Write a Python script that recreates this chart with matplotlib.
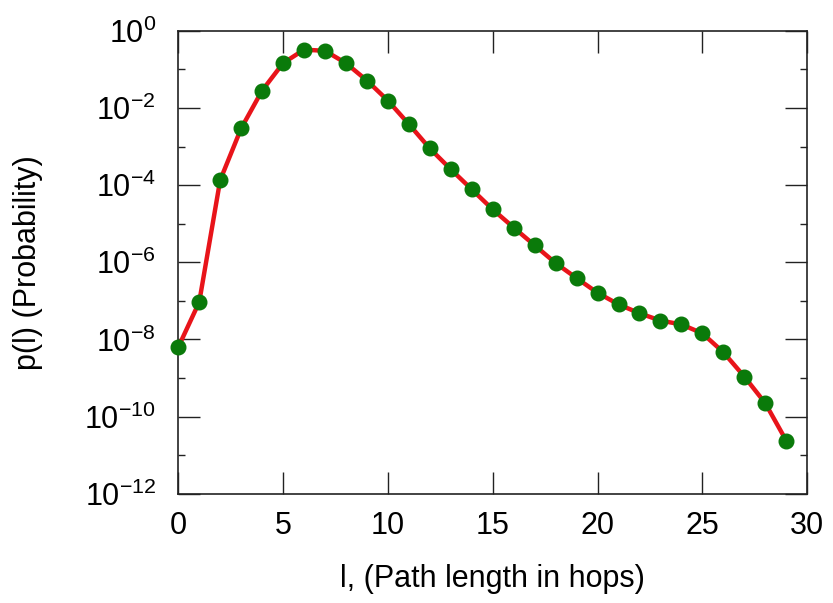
import matplotlib
matplotlib.use('Agg')
import matplotlib.pyplot as plt
import numpy as np
from matplotlib.ticker import FixedLocator, FixedFormatter

plt.rcParams['font.family'] = ['Liberation Sans', 'DejaVu Sans']
plt.rcParams['mathtext.default'] = 'regular'

# path length in hops and log10 of the probability
hops = list(range(0, 30))
log_p = [-8.20, -7.03, -3.87, -2.53, -1.55, -0.84, -0.49, -0.52, -0.84, -1.29,
         -1.81, -2.42, -3.05, -3.59, -4.11, -4.63, -5.10, -5.56, -6.02, -6.41,
         -6.79, -7.09, -7.32, -7.51, -7.61, -7.84, -8.33, -8.96, -9.65, -10.62]
prob = [10 ** v for v in log_p]

x_ticks = [0, 5, 10, 15, 20, 25, 30]
y_major = [1e0, 1e-2, 1e-4, 1e-6, 1e-8, 1e-10, 1e-12]
y_labels = ['$10^{0}$', '$10^{-2}$', '$10^{-4}$', '$10^{-6}$',
            '$10^{-8}$', '$10^{-10}$', '$10^{-12}$']
y_minor = [1e-1, 1e-3, 1e-5, 1e-7, 1e-9, 1e-11]

fig = plt.figure(figsize=(8.33, 6.03), dpi=100)
ax = fig.add_axes([0.214, 0.181, 0.755, 0.768])

ax.plot(hops, prob, color='#e8141a', linewidth=3.2, zorder=2, clip_on=False)
ax.plot(hops, prob, linestyle='none', marker='o', markersize=10.5,
        color='#0a7a0a', zorder=3, clip_on=False)

ax.set_yscale('log')
ax.set_xlim(0, 30)
ax.set_ylim(1e-12, 1e0)

ax.xaxis.set_major_locator(FixedLocator(x_ticks))
ax.xaxis.set_minor_locator(FixedLocator([]))
ax.yaxis.set_major_locator(FixedLocator(y_major))
ax.yaxis.set_major_formatter(FixedFormatter(y_labels))
ax.yaxis.set_minor_locator(FixedLocator(y_minor))
ax.yaxis.set_minor_formatter(FixedFormatter([''] * len(y_minor)))

ax.tick_params(which='both', direction='in', top=True, right=True,
               color='#222222', width=1.0)
ax.tick_params(which='major', length=16, labelsize=22)
ax.tick_params(which='minor', length=5)
ax.tick_params(axis='x', which='major', pad=12)
ax.tick_params(axis='y', which='major', pad=16)

for s in ax.spines.values():
    s.set_color('#222222')
    s.set_linewidth(1.2)

ax.set_xlabel('l, (Path length in hops)', fontsize=22, labelpad=17)
ax.set_ylabel('p(l) (Probability)', fontsize=22, labelpad=30)

plt.savefig('out.png', dpi=100)
plt.close()
